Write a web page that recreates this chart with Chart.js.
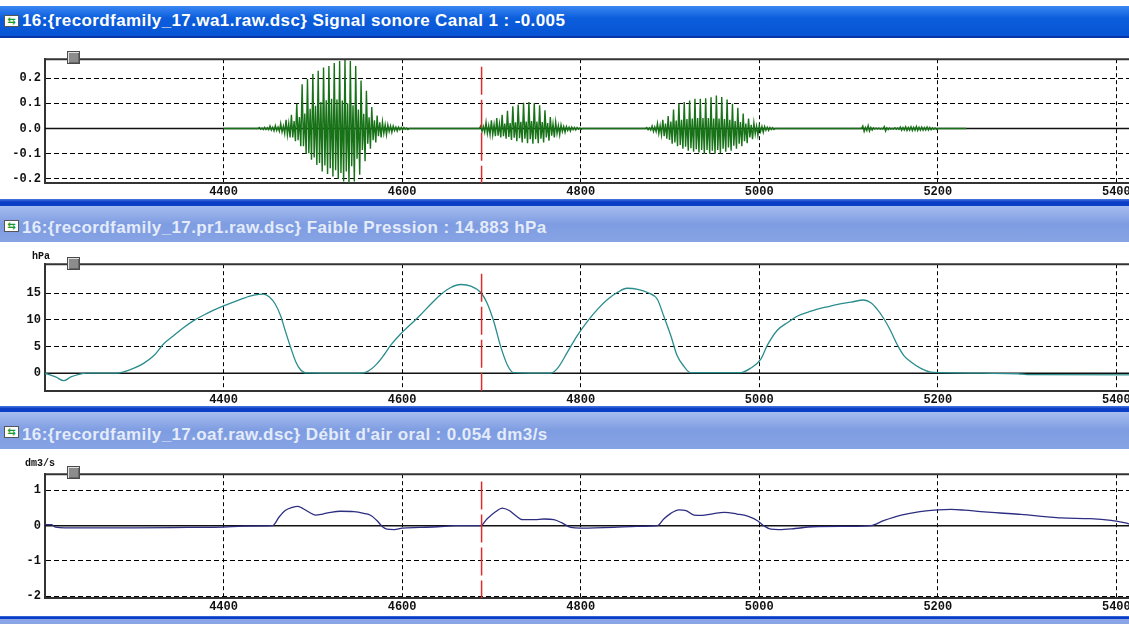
<!DOCTYPE html>
<html>
<head>
<meta charset="utf-8">
<title>recordfamily_17</title>
<script src="https://cdn.jsdelivr.net/npm/chart.js@4.4.1/dist/chart.umd.min.js"></script>
<style>
    html, body { margin: 0; padding: 0; }
    body { width: 1129px; height: 624px; overflow: hidden; position: relative; background: #fff; }
    .band { position: absolute; left: 0; width: 1129px; }
    .band.dark { background: linear-gradient(#4a78e0, #0a3cc4 45%, #0b40c8); }
    .band.light { background: #8aa5e6; }
    .title { position: absolute; left: 0; width: 1129px; white-space: nowrap; font: bold 17px 'Liberation Sans', Arial, sans-serif; letter-spacing: 0.4px; }
    .title .text { position: absolute; left: 22px; }
    .title.active { background: linear-gradient(#3a86f4, #0c5edc 40%, #0754d4); color: #fff; }
    .title.inactive { background: linear-gradient(#a6bdef, #7e9ce1 50%, #86a3e5); color: #e4ebf9; }
    .icon { position: absolute; left: 4px; width: 13px; height: 10px; background: #fff; border: 1px solid #555; font: bold 10px 'DejaVu Sans', sans-serif; letter-spacing: 0; color: #1a9a2a; line-height: 10px; text-align: center; }
    .panel { position: absolute; left: 0; }
    .knob { position: absolute; left: 67px; width: 11px; height: 11px; background: #8c8c8c; border: 1px solid #4a4a4a; box-shadow: inset 1px 1px 0 #e0e0e0, inset -1px -1px 0 #666; }
    .unit { position: absolute; font: bold 10px 'Liberation Mono', monospace; color: #111; }
</style>
</head>
<body>
    <div class="title active" style="top:6px;height:30px;"><div class="icon" style="top:9px;">⇆</div><span class="text" style="top:5px;">16:{recordfamily_17.wa1.raw.dsc} Signal sonore Canal 1 : -0.005</span></div>
    <div class="band" style="top:36px;height:2px;background:#0836a8;"></div>
    <div class="panel" style="top:48px;"><canvas id="waveChart" width="1161" height="153"></canvas></div>
    <div class="knob" style="top:51px;"></div>

    <div class="band dark" style="top:199px;height:7px;"></div>
    <div class="title inactive" style="top:206px;height:36px;"><div class="icon" style="top:14px;">⇆</div><span class="text" style="top:12px;">16:{recordfamily_17.pr1.raw.dsc} Faible Pression : 14.883 hPa</span></div>
    <div class="panel" style="top:253px;"><canvas id="pressChart" width="1161" height="156"></canvas></div>
    <div class="unit" style="left:32px;top:251px;">hPa</div>
    <div class="knob" style="top:257px;"></div>

    <div class="band dark" style="top:406px;height:6px;"></div>
    <div class="title inactive" style="top:412px;height:37px;"><div class="icon" style="top:14px;">⇆</div><span class="text" style="top:13px;">16:{recordfamily_17.oaf.raw.dsc} Débit d'air oral : 0.054 dm3/s</span></div>
    <div class="panel" style="top:463px;"><canvas id="flowChart" width="1161" height="153"></canvas></div>
    <div class="unit" style="left:25px;top:458px;">dm3/s</div>
    <div class="knob" style="top:466px;"></div>

    <div class="band dark" style="top:616px;height:3px;"></div>
    <div class="band light" style="top:619px;height:5px;"></div>

<script>
// Time axis (shared by the three panels)
const timeMin = 4200;
const timeMax = 5450;
const timeTicks = [4400, 4600, 4800, 5000, 5200, 5400];
const cursorT = 4689;

// Signal sonore: bursts sampled every 1.5 units, starting at waveNStart
// each group of 4 = upper spike, lower body, upper body, lower spike
const waveStep = 1.5;
const wave1Start = 4440;
const wave1 = [
    0.004, -0.003, 0.002, -0.004,   0.005, -0.004, 0.003, -0.005,
    0.010, -0.006, 0.005, -0.009,   0.012, -0.008, 0.006, -0.011,
    0.020, -0.014, 0.010, -0.020,   0.035, -0.025, 0.020, -0.035,
    0.055, -0.035, 0.030, -0.050,   0.098, -0.046, 0.046, -0.070,
    0.176, -0.070, 0.060, -0.100,   0.196, -0.098, 0.078, -0.124,
    0.216, -0.115, 0.090, -0.145,   0.229, -0.137, 0.105, -0.170,
    0.242, -0.147, 0.112, -0.180,   0.248, -0.157, 0.118, -0.190,
    0.260, -0.165, 0.115, -0.200,   0.268, -0.176, 0.111, -0.210,
    0.275, -0.170, 0.100, -0.216,   0.268, -0.150, 0.092, -0.210,
    0.248, -0.120, 0.075, -0.183,   0.190, -0.085, 0.059, -0.130,
    0.150, -0.060, 0.045, -0.080,   0.085, -0.046, 0.033, -0.055,
    0.052, -0.030, 0.025, -0.035,   0.026, -0.020, 0.015, -0.025,
    0.015, -0.012, 0.010, -0.015,   0.010, -0.008, 0.006, -0.010,
    0.006, -0.005, 0.004, -0.006,   0.004, -0.003, 0.002, -0.004
];
const wave2Start = 4688;
const wave2 = [
    0.010, -0.012, 0.008, -0.015,   0.025, -0.020, 0.012, -0.025,
    0.033, -0.025, 0.016, -0.030,   0.042, -0.028, 0.018, -0.035,
    0.055, -0.030, 0.020, -0.040,   0.070, -0.033, 0.022, -0.045,
    0.088, -0.036, 0.025, -0.050,   0.095, -0.038, 0.027, -0.055,
    0.102, -0.040, 0.028, -0.058,   0.105, -0.042, 0.030, -0.060,
    0.100, -0.042, 0.028, -0.058,   0.092, -0.040, 0.026, -0.055,
    0.072, -0.035, 0.022, -0.048,   0.046, -0.028, 0.018, -0.035,
    0.026, -0.020, 0.012, -0.025,   0.014, -0.012, 0.008, -0.015,
    0.008, -0.008, 0.005, -0.010,   0.006, -0.005, 0.004, -0.006,
    0.004, -0.003, 0.002, -0.004
];
const wave3Start = 4874;
const wave3 = [
    0.004, -0.005, 0.003, -0.006,   0.010, -0.012, 0.006, -0.012,
    0.020, -0.020, 0.012, -0.025,   0.035, -0.030, 0.020, -0.040,
    0.050, -0.045, 0.028, -0.060,   0.075, -0.055, 0.032, -0.070,
    0.100, -0.065, 0.035, -0.080,   0.105, -0.072, 0.038, -0.088,
    0.111, -0.078, 0.040, -0.092,   0.118, -0.082, 0.042, -0.095,
    0.118, -0.085, 0.042, -0.100,   0.120, -0.085, 0.042, -0.100,
    0.124, -0.088, 0.040, -0.100,   0.131, -0.085, 0.040, -0.098,
    0.125, -0.080, 0.038, -0.092,   0.115, -0.075, 0.035, -0.088,
    0.098, -0.068, 0.030, -0.080,   0.082, -0.060, 0.026, -0.070,
    0.060, -0.050, 0.020, -0.058,   0.040, -0.035, 0.015, -0.042,
    0.022, -0.022, 0.010, -0.028,   0.012, -0.012, 0.008, -0.015,
    0.008, -0.007, 0.005, -0.008,   0.004, -0.004, 0.003, -0.004
];
const wave4Start = 5116;
const wave4 = [
    0.010, -0.012, 0.004, -0.008,   0.012, -0.010, 0.004, -0.006,
    0.003, -0.002, 0.002, -0.002,   0.002, -0.002, 0.001, -0.002,
    0.008, -0.010, 0.003, -0.004,   0.002, -0.002, 0.001, -0.002,
    0.003, -0.003, 0.002, -0.003,   0.006, -0.007, 0.004, -0.006,
    0.007, -0.008, 0.004, -0.007,   0.007, -0.008, 0.005, -0.007,
    0.008, -0.008, 0.005, -0.007,   0.006, -0.007, 0.004, -0.006,
    0.006, -0.006, 0.004, -0.005,   0.003, -0.003, 0.002, -0.003
];
const signalFrom = 4400;
const signalTo = 5232;
const waveTicks = [-0.2, -0.1, 0, 0.1, 0.2];

// Faible pression (hPa)
const pressT = [
    4200, 4212, 4221, 4229, 4238, 4247, 4281, 4288, 4299, 4310, 4322, 4333, 4344, 4355,
    4366, 4378, 4389, 4400, 4411, 4422, 4434, 4445, 4451, 4458, 4464, 4469, 4475, 4481,
    4486, 4492, 4553, 4561, 4572, 4580, 4587, 4598, 4610, 4621, 4632, 4643, 4654, 4666,
    4677, 4688, 4695, 4703, 4710, 4718, 4725, 4766, 4774, 4785, 4796, 4808, 4819, 4830,
    4841, 4852, 4864, 4875, 4886, 4893, 4901, 4908, 4916, 4923, 4979, 4990, 5002, 5009,
    5020, 5032, 5043, 5058, 5073, 5088, 5103, 5117, 5125, 5132, 5140, 5147, 5155, 5162,
    5170, 5181, 5192, 5203, 5250, 5290, 5300, 5450
];
const pressV = [
    0, -0.7, -1.4, -0.7, -0.2, 0, 0, 0.25, 0.9, 1.8, 3.3, 5.5, 7.0, 8.5,
    9.8, 10.9, 11.8, 12.6, 13.3, 14.0, 14.6, 14.8, 14.3, 12.9, 10.7, 8.0, 4.9, 2.1,
    0.7, 0.05, 0, 0.3, 1.8, 3.5, 5.2, 7.3, 9.2, 11.0, 12.9, 14.7, 16.0, 16.6,
    16.3, 15.1, 13.2, 9.5, 5.2, 1.5, 0.1, 0, 0.9, 3.9, 7.0, 9.8, 12.0, 13.8,
    15.1, 15.9, 15.7, 15.1, 13.8, 10.7, 7.0, 3.3, 1.2, 0.1, 0.1, 0.9, 2.7, 5.2,
    8.0, 9.5, 10.7, 11.6, 12.3, 12.9, 13.3, 13.7, 13.2, 12.0, 10.1, 8.0, 5.2, 3.3,
    2.1, 0.9, 0.2, 0.1, 0, -0.1, -0.25, -0.3
];
const pressTicks = [0, 5, 10, 15];

// Debit d'air oral (dm3/s)
const flowT = [
    4200, 4207, 4212, 4222, 4300, 4360, 4400, 4422, 4455, 4462, 4469, 4477, 4483, 4488,
    4496, 4503, 4511, 4520, 4531, 4546, 4557, 4565, 4572, 4578, 4583, 4591, 4600, 4620,
    4640, 4660, 4688, 4695, 4705, 4712, 4720, 4727, 4735, 4748, 4759, 4770, 4779, 4789,
    4800, 4837, 4863, 4886, 4893, 4901, 4910, 4918, 4927, 4936, 4946, 4961, 4975, 4987,
    4998, 5005, 5013, 5022, 5040, 5060, 5100, 5125, 5140, 5159, 5180, 5200, 5215, 5230,
    5248, 5270, 5293, 5320, 5338, 5371, 5394, 5410, 5420, 5450
];
const flowV = [
    0.03, 0.03, -0.04, -0.06, -0.06, -0.05, -0.04, -0.01, 0, 0.24, 0.43, 0.52, 0.55, 0.5,
    0.38, 0.3, 0.33, 0.38, 0.41, 0.4, 0.35, 0.29, 0.14, -0.03, -0.1, -0.11, -0.07, -0.05,
    -0.03, 0, 0, 0.19, 0.4, 0.5, 0.43, 0.29, 0.17, 0.17, 0.19, 0.17, 0.08, -0.05,
    -0.07, -0.05, -0.02, 0, 0.19, 0.35, 0.45, 0.43, 0.3, 0.29, 0.33, 0.38, 0.33, 0.27,
    0.14, 0, -0.1, -0.11, -0.08, -0.03, -0.02, 0, 0.15, 0.3, 0.4, 0.45, 0.46, 0.44,
    0.4, 0.36, 0.32, 0.26, 0.22, 0.2, 0.15, 0.08, 0.02, 0
];
const flowTicks = [-2, -1, 0, 1];

// Build the waveform polyline from the bursts
const signalPoints = [{ x: signalFrom, y: 0 }];
[[wave1Start, wave1], [wave2Start, wave2], [wave3Start, wave3], [wave4Start, wave4]].forEach(([t0, vals]) => {
    signalPoints.push({ x: t0 - waveStep, y: 0 });
    vals.forEach((v, i) => signalPoints.push({ x: t0 + i * waveStep, y: v }));
    signalPoints.push({ x: t0 + vals.length * waveStep, y: 0 });
});
signalPoints.push({ x: signalTo, y: 0 });

const tickFont = { family: "'Liberation Mono', monospace", size: 12, weight: 'bold' };

// Top edge of the plot frame (left and bottom come from the axis borders)
const frameTop = {
    id: 'frameTop',
    afterDraw(chart) {
        const { ctx, chartArea } = chart;
        ctx.save();
        ctx.strokeStyle = '#333';
        ctx.lineWidth = 2;
        ctx.beginPath();
        ctx.moveTo(chartArea.left, chartArea.top);
        ctx.lineTo(chartArea.right, chartArea.top);
        ctx.stroke();
        ctx.restore();
    }
};

function lineSet(points, color, width, order, extra) {
    return Object.assign({
        data: points,
        borderColor: color,
        borderWidth: width,
        pointRadius: 0,
        fill: false,
        tension: 0,
        order: order
    }, extra || {});
}

function makePanel(canvasId, yMin, yMax, yTicks, yLabel, datasets) {
    const ctx = document.getElementById(canvasId).getContext('2d');
    return new Chart(ctx, {
        type: 'line',
        data: { datasets: datasets },
        options: {
            responsive: false,
            animation: false,
            events: [],
            layout: { padding: { top: 10, right: 0, bottom: 0, left: 0 } },
            plugins: { legend: { display: false }, tooltip: { enabled: false } },
            scales: {
                x: {
                    type: 'linear',
                    min: timeMin,
                    max: timeMax,
                    afterBuildTicks: (axis) => { axis.ticks = timeTicks.map(v => ({ value: v })); },
                    afterFit: (axis) => { axis.height = 18; },
                    grid: { color: '#000', lineWidth: 1, drawTicks: false },
                    border: { display: true, color: '#333', width: 2, dash: [4, 3] },
                    ticks: {
                        color: '#111', font: tickFont, padding: 2,
                        maxRotation: 0, autoSkip: false,
                        callback: (v) => String(v)
                    }
                },
                y: {
                    min: yMin,
                    max: yMax,
                    afterBuildTicks: (axis) => { axis.ticks = yTicks.map(v => ({ value: v })); },
                    afterFit: (axis) => { axis.width = 45; },
                    grid: { color: '#000', lineWidth: 1, drawTicks: false },
                    border: { display: true, color: '#333', width: 2, dash: [5, 3] },
                    ticks: { color: '#111', font: tickFont, padding: 4, callback: yLabel }
                }
            }
        },
        plugins: [frameTop]
    });
}

const cursorStyle = { borderDash: [28, 5] };

makePanel('waveChart', -0.216, 0.275, waveTicks, (v) => v.toFixed(1), [
    lineSet([{ x: cursorT, y: 0.245 }, { x: cursorT, y: -0.216 }], '#dd2b2b', 1.5, 0, cursorStyle),
    lineSet(signalPoints, '#187218', 1.4, 1),
    lineSet([{ x: timeMin, y: 0 }, { x: timeMax, y: 0 }], '#111', 1.5, 2)
]);

makePanel('pressChart', -3.33, 20.4, pressTicks, (v) => String(v), [
    lineSet([{ x: cursorT, y: 18.6 }, { x: cursorT, y: -3.33 }], '#dd2b2b', 1.5, 0, cursorStyle),
    lineSet(pressT.map((t, i) => ({ x: t, y: pressV[i] })), '#2a8c8c', 1.3, 1, { cubicInterpolationMode: 'monotone' }),
    lineSet([{ x: timeMin, y: 0 }, { x: timeMax, y: 0 }], '#111', 1.5, 2)
]);

makePanel('flowChart', -2.05, 1.46, flowTicks, (v) => String(v), [
    lineSet([{ x: cursorT, y: 1.25 }, { x: cursorT, y: -2.05 }], '#dd2b2b', 1.5, 0, cursorStyle),
    lineSet(flowT.map((t, i) => ({ x: t, y: flowV[i] })), '#2d2d82', 1.3, 1, { cubicInterpolationMode: 'monotone' }),
    lineSet([{ x: timeMin, y: 0 }, { x: timeMax, y: 0 }], '#111', 1.5, 2)
]);
</script>
</body>
</html>
